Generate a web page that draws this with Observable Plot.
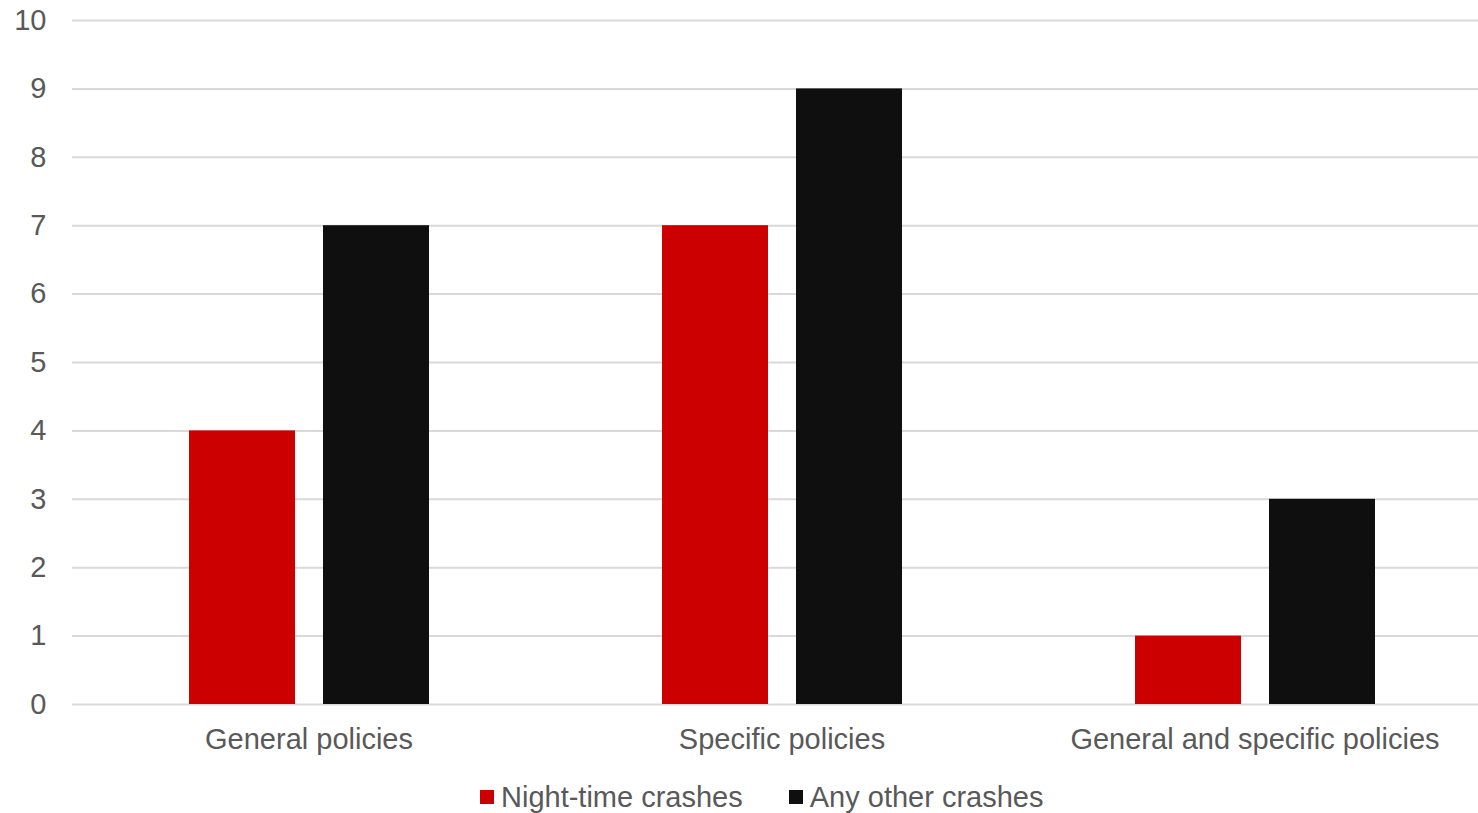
<!DOCTYPE html>
<html>
<head>
<meta charset="utf-8">
<script src="https://cdn.jsdelivr.net/npm/d3@7"></script>
<script src="https://cdn.jsdelivr.net/npm/@observablehq/plot@0.6"></script>
<style>
  body { margin: 0; background: #fff; font-family: "Liberation Sans", Arial, sans-serif; }
  #chart svg { display: block; }
  .legend { display: flex; align-items: center; height: 34px; margin-left: 480px; color: #595959; font-size: 29px; }
  .legend .item { display: flex; align-items: center; margin-right: 46px; }
  .legend .swatch { width: 14px; height: 14px; margin-right: 7px; }
</style>
</head>
<body>
<div id="chart"></div>
<script>
// Policy groups and the two crash series
const categories = ["General policies", "Specific policies", "General and specific policies"];
const series = ["Night-time crashes", "Any other crashes"];
const nightTime = [4, 7, 1];
const anyOther = [7, 9, 3];
const seriesColors = ["#cc0000", "#0f0f0f"];
const yTicks = [0, 1, 2, 3, 4, 5, 6, 7, 8, 9, 10];

const rows = categories.flatMap((category, i) => [
  {category, series: series[0], value: nightTime[i]},
  {category, series: series[1], value: anyOther[i]}
]);

const chart = Plot.plot({
  width: 1478,
  height: 780,
  marginTop: 20,
  marginBottom: 76,
  marginLeft: 72,
  marginRight: -13,
  style: {fontFamily: "'Liberation Sans', Arial, sans-serif", fontSize: "29px", color: "#595959", background: "#fff"},
  fx: {domain: categories, padding: 0, label: null, axis: "bottom", tickSize: 0, tickPadding: 24},
  x: {domain: series, paddingInner: 0.209, paddingOuter: 0.8694, axis: null},
  y: {domain: [0, 10], ticks: yTicks, tickSize: 0, tickPadding: 26, label: null},
  color: {domain: series, range: seriesColors},
  marks: [
    Plot.ruleY(yTicks, {stroke: "#d9d9d9", strokeWidth: 2}),
    Plot.barY(rows, {fx: "category", x: "series", y: "value", fill: "series"})
  ]
});
document.getElementById("chart").append(chart);

// Legend row below the chart
const legend = document.createElement("div");
legend.className = "legend";
series.forEach((name, i) => {
  const item = document.createElement("div");
  item.className = "item";
  const sw = document.createElement("span");
  sw.className = "swatch";
  sw.style.background = seriesColors[i];
  const label = document.createElement("span");
  label.textContent = name;
  item.append(sw, label);
  legend.append(item);
});
document.getElementById("chart").append(legend);
</script>
</body>
</html>
